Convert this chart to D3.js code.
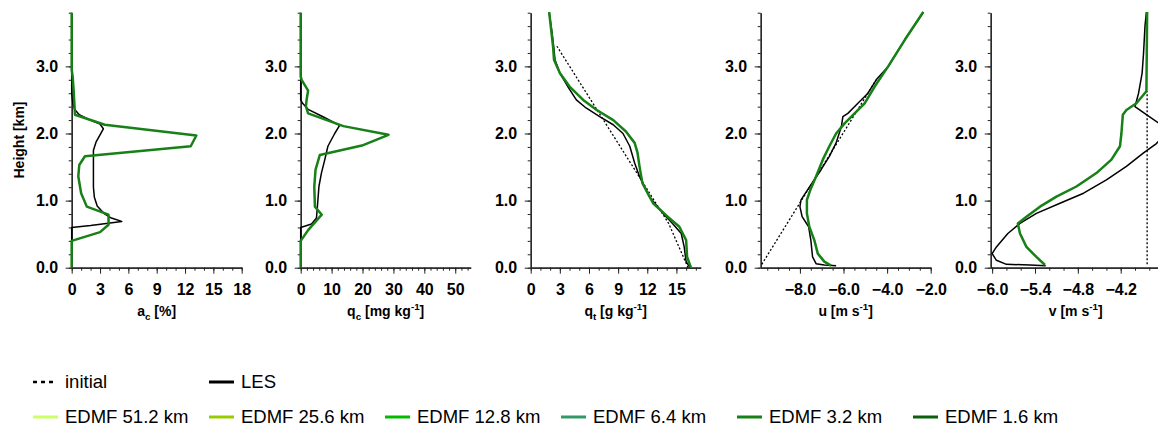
<!DOCTYPE html>
<html><head><meta charset="utf-8">
<script src="https://cdn.jsdelivr.net/npm/d3@7"></script>
<style>
body{margin:0;background:#fff}
svg{display:block;font-family:"Liberation Sans",Arial,Helvetica,sans-serif}
</style></head><body>
<svg id="chart" width="1158" height="429"></svg>
<script>
// ---- profiles: [value, height km] ----
// cloud fraction a_c [%]
const acLES  = [[0,0],[0,0.60],[2.0,0.63],[5.3,0.69],[4.2,0.74],[3.4,0.81],[2.7,0.92],[2.4,1.05],[2.3,1.2],[2.3,1.5],[2.3,1.75],[2.6,1.88],[3.0,1.98],[3.35,2.07],[3.0,2.14],[1.8,2.21],[0.8,2.28],[0.3,2.36],[0.1,2.47],[0,2.6],[0,3.8]];
const acEDMF = [[0,0],[0,0.40],[3.0,0.53],[3.9,0.64],[3.9,0.79],[1.6,0.91],[1.0,1.11],[0.7,1.36],[0.8,1.53],[1.4,1.66],[12.6,1.81],[13.2,1.97],[3.5,2.13],[0.35,2.28],[0.3,2.40],[0.2,2.65],[0.1,2.85],[0,2.95],[0,3.8]];
// cloud water q_c [mg/kg]
const qcLES  = [[0,0],[0,0.60],[3.5,0.65],[5.1,0.74],[5.4,0.91],[5.9,1.21],[6.7,1.41],[7.8,1.61],[8.8,1.81],[11.0,2.0],[12.6,2.12],[7.2,2.25],[2.4,2.36],[0.6,2.45],[0,2.5],[0,3.8]];
const qcEDMF = [[0,0],[0,0.40],[2.4,0.56],[6.8,0.79],[4.6,0.91],[4.4,1.21],[4.8,1.46],[6.2,1.68],[19.8,1.82],[28.4,1.98],[13.8,2.11],[2.4,2.30],[1.7,2.40],[1.9,2.50],[2.4,2.64],[0.3,2.80],[0,2.85],[0,3.8]];
// total water q_t [g/kg]
const qtInit = [[16.2,0],[14.2,0.66],[2.7,3.3]];
const qtLES  = [[16.4,0.0],[16.0,0.09],[15.8,0.31],[15.5,0.51],[14.6,0.66],[13.6,0.81],[12.2,1.06],[11.2,1.36],[10.7,1.56],[10.2,1.81],[9.5,2.0],[8.5,2.13],[7.1,2.25],[5.7,2.38],[4.7,2.5],[3.9,2.68],[3.0,2.9],[2.5,3.1],[2.4,3.25],[2.2,3.5],[1.9,3.81]];
const qtEDMF = [[16.5,0.0],[16.1,0.16],[16.0,0.41],[15.3,0.61],[14.1,0.76],[12.6,0.96],[11.5,1.26],[11.2,1.51],[11.0,1.71],[10.7,1.86],[9.8,2.03],[8.5,2.2],[6.8,2.35],[5.4,2.5],[4.0,2.7],[3.0,2.9],[2.4,3.1],[2.3,3.3],[1.9,3.81]];
// zonal wind u [m/s]
const uInit = [[-9.75,0.05],[-4.5,2.8]];
const uLES  = [[-6.34,0.03],[-6.88,0.04],[-7.26,0.06],[-7.42,0.16],[-7.5,0.41],[-7.6,0.61],[-7.9,0.76],[-8.0,0.91],[-7.95,1.01],[-7.65,1.16],[-7.34,1.31],[-7.03,1.46],[-6.65,1.66],[-6.34,1.86],[-6.1,2.1],[-6.03,2.25],[-5.8,2.30],[-5.34,2.45],[-4.88,2.6],[-4.5,2.8],[-3.95,3.0],[-3.18,3.4],[-2.34,3.81]];
const uEDMF = [[-6.57,0.03],[-6.88,0.09],[-7.18,0.21],[-7.34,0.41],[-7.57,0.61],[-7.68,0.81],[-7.68,1.01],[-7.52,1.16],[-7.26,1.36],[-6.95,1.61],[-6.65,1.81],[-6.34,2.0],[-5.95,2.15],[-5.49,2.30],[-5.03,2.45],[-4.57,2.7],[-3.95,3.0],[-3.18,3.4],[-2.34,3.81]];
// meridional wind v [m/s]
const vInit = [[-3.83,0.05],[-3.83,2.63]];
const vLES  = [[-5.25,0.03],[-5.47,0.04],[-5.8,0.05],[-5.94,0.11],[-6.0,0.21],[-5.94,0.31],[-5.78,0.51],[-5.61,0.66],[-5.38,0.81],[-5.05,0.96],[-4.72,1.11],[-4.4,1.31],[-4.12,1.51],[-3.88,1.71],[-3.7,1.85],[-3.57,2.0],[-3.66,2.15],[-3.84,2.28],[-4.0,2.4],[-3.95,2.6],[-3.9,2.9],[-3.88,3.2],[-3.86,3.6],[-3.84,3.81]];
const vEDMF = [[-5.26,0.04],[-5.38,0.16],[-5.52,0.31],[-5.61,0.51],[-5.64,0.66],[-5.52,0.76],[-5.33,0.91],[-5.1,1.06],[-4.82,1.21],[-4.54,1.41],[-4.33,1.61],[-4.21,1.81],[-4.19,2.0],[-4.17,2.28],[-4.12,2.35],[-3.98,2.45],[-3.84,2.63],[-3.83,3.81]];

// ---- axis ticks ----
const heightTicks = [0,1,2,3];
const acTicks = [0,3,6,9,12,15,18];
const qcTicks = [0,10,20,30,40,50];
const qtTicks = [0,3,6,9,12,15];
const uTicks  = [-8,-6,-4,-2];
const vTicks  = [-6.0,-5.4,-4.8,-4.2];

// ---- legend ----
const legendTop = [
  {label:"initial", color:"#000", dash:"4,4", width:2.5, len:21},
  {label:"LES", color:"#000", dash:null, width:3, len:25}
];
const edmfLabels = ["EDMF 51.2 km","EDMF 25.6 km","EDMF 12.8 km","EDMF 6.4 km","EDMF 3.2 km","EDMF 1.6 km"];
const edmfColors = ["#ccff66","#99cc00","#00bb00","#339966","#178017","#0b600b"];

const svg = d3.select("#chart");
const H0 = 3.8;
const y = d3.scaleLinear().domain([0, H0]).range([267.7, 12.7]);
const panelW = 170;

const panels = [
  {left:71.7,  domain:[0,18],        ticks:acTicks, minor:1,   fmt:d3.format("d"),   init:null,   les:acLES, edmf:acEDMF, title:[["a"],["c","sub"],[" [%]"]]},
  {left:300.7, domain:[0,55],        ticks:qcTicks, minor:2,   fmt:d3.format("d"),   init:null,   les:qcLES, edmf:qcEDMF, title:[["q"],["c","sub"],[" [mg kg"],["-1","sup"],["]"]]},
  {left:530.7, domain:[0,17.5],      ticks:qtTicks, minor:1,   fmt:d3.format("d"),   init:qtInit, les:qtLES, edmf:qtEDMF, title:[["q"],["t","sub"],[" [g kg"],["-1","sup"],["]"]]},
  {left:760.7, domain:[-9.8,-2.0],   ticks:uTicks,  minor:0.5, fmt:d3.format(".1f"), init:uInit,  les:uLES,  edmf:uEDMF,  title:[["u [m s"],["-1","sup"],["]"]]},
  {left:990.7, domain:[-6.02,-3.64], ticks:vTicks,  minor:0.2, fmt:d3.format(".1f"), init:vInit,  les:vLES,  edmf:vEDMF,  title:[["v [m s"],["-1","sup"],["]"]]}
];

const tickFont = 16, titleFont = 14;
const axisColor = "#222";

panels.forEach(p => {
  const x = d3.scaleLinear().domain(p.domain).range([p.left, p.left + panelW]);
  const g = svg.append("g");

  // minor ticks
  const xMinor = [];
  const start = Math.ceil(p.domain[0] / p.minor - 1e-6) * p.minor;
  for (let v = start; v <= p.domain[1] + 1e-6; v += p.minor) xMinor.push(+v.toFixed(3));
  const yMinor = d3.range(0, H0 + 1e-6, 0.2).map(v => +v.toFixed(2));

  const gxm = g.append("g").attr("transform", `translate(0,${y(0)})`)
    .call(d3.axisBottom(x).tickValues(xMinor).tickSize(3).tickSizeOuter(0).tickFormat(""));
  const gym = g.append("g").attr("transform", `translate(${p.left},0)`)
    .call(d3.axisLeft(y).tickValues(yMinor).tickSize(3).tickSizeOuter(0).tickFormat(""));

  const gx = g.append("g").attr("transform", `translate(0,${y(0)})`)
    .call(d3.axisBottom(x).tickValues(p.ticks).tickSize(6).tickSizeOuter(0).tickPadding(10).tickFormat(p.fmt));
  const gy = g.append("g").attr("transform", `translate(${p.left},0)`)
    .call(d3.axisLeft(y).tickValues(heightTicks).tickSize(6).tickSizeOuter(0).tickPadding(7.5).tickFormat(d3.format(".1f")));

  [gxm, gym, gx, gy].forEach(a => {
    a.select(".domain").attr("stroke", axisColor).attr("stroke-width", 1.2);
    a.selectAll(".tick line").attr("stroke", axisColor).attr("stroke-width", 1);
    a.selectAll("text").attr("font-size", tickFont).attr("font-family", null)
      .attr("font-weight", "bold").attr("fill", "#000");
  });

  // profiles
  const line = d3.line().x(d => x(d[0])).y(d => y(d[1]));
  if (p.init) g.append("path").datum(p.init).attr("d", line)
      .attr("fill", "none").attr("stroke", "#000").attr("stroke-width", 1.3).attr("stroke-dasharray", "2,2");
  g.append("path").datum(p.les).attr("d", line)
      .attr("fill", "none").attr("stroke", "#000").attr("stroke-width", 1.5).attr("stroke-linejoin", "round");
  g.append("path").datum(p.edmf).attr("d", line)
      .attr("fill", "none").attr("stroke", edmfColors[4]).attr("stroke-width", 2.5).attr("stroke-linejoin", "round");

  // x-axis title
  const t = g.append("text").attr("x", p.left + panelW / 2).attr("y", 316)
    .attr("text-anchor", "middle").attr("font-size", titleFont).attr("font-weight", "bold");
  let shift = 0;
  p.title.forEach(([s, kind]) => {
    const ts = t.append("tspan").text(s);
    let target = kind === "sub" ? 4 : kind === "sup" ? -6 : 0;
    if (kind) ts.attr("font-size", titleFont * 0.7);
    ts.attr("dy", target - shift);
    shift = target;
  });
});

// y-axis title
svg.append("text").attr("transform", "translate(24,140) rotate(-90)")
  .attr("text-anchor", "middle").attr("font-size", titleFont).attr("font-weight", "bold").text("Height [km]");

// legend
const lg = svg.append("g");
const colStep = 176, legFont = 18.5;
legendTop.forEach((d, i) => {
  const x0 = 33 + i * colStep, yy = 382;
  lg.append("line").attr("x1", x0).attr("x2", x0 + d.len).attr("y1", yy).attr("y2", yy)
    .attr("stroke", d.color).attr("stroke-width", d.width).attr("stroke-dasharray", d.dash);
  lg.append("text").attr("x", x0 + 32).attr("y", yy).attr("dy", "0.35em")
    .attr("font-size", legFont).text(d.label);
});
edmfLabels.forEach((lab, i) => {
  const x0 = 33 + i * colStep, yy = 417;
  lg.append("line").attr("x1", x0).attr("x2", x0 + 25).attr("y1", yy).attr("y2", yy)
    .attr("stroke", edmfColors[i]).attr("stroke-width", 3);
  lg.append("text").attr("x", x0 + 32).attr("y", yy).attr("dy", "0.35em")
    .attr("font-size", legFont).text(lab);
});
</script>
</body></html>
